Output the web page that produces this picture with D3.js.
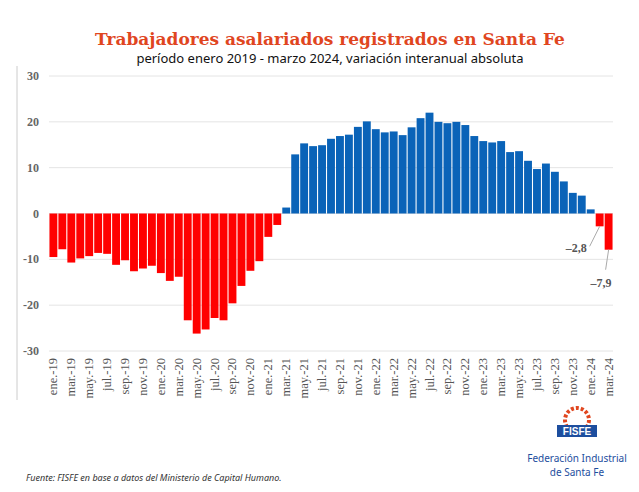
<!DOCTYPE html>
<html><head><meta charset="utf-8">
<script src="https://cdn.jsdelivr.net/npm/d3@7"></script>
<style>body{margin:0;background:#fff}</style>
</head><body><svg id="c" width="639" height="492"></svg>
<script>
const months = ["ene","feb","mar","abr","may","jun","jul","ago","sep","oct","nov","dic"];
const values2019 = [-9.5,-7.8,-10.7,-9.8,-9.3,-8.6,-8.8,-11.2,-10.2,-12.6,-12.0,-11.4];
const values2020 = [-13.0,-14.7,-13.8,-23.3,-26.2,-25.3,-22.8,-23.3,-19.6,-15.8,-12.5,-10.4];
const values2021 = [-5.1,-2.5,1.3,12.9,15.3,14.7,14.9,16.3,16.9,17.2,18.9,20.1];
const values2022 = [18.4,17.7,17.9,17.1,18.8,20.8,22.0,20.0,19.7,20.0,19.3,16.9];
const values2023 = [15.8,15.5,15.8,13.4,13.6,11.5,9.7,10.9,9.1,7.0,4.5,3.9];
const values2024 = [0.9,-2.8,-7.9];
const yTicks = [30,20,10,0,-10,-20,-30];

const data = [];
[[2019,values2019],[2020,values2020],[2021,values2021],[2022,values2022],[2023,values2023],[2024,values2024]]
  .forEach(([yr, vals]) => vals.forEach((v, i) => data.push({ label: `${months[i]}.-${String(yr).slice(2)}`, value: v })));

const svg = d3.select("#c");
const x = d3.scaleBand().domain(data.map(d => d.label)).range([49, 613]).paddingInner(0.12).paddingOuter(0.05);
const y = d3.scaleLinear().domain([-30, 30]).range([351, 76]);

// left frame line
svg.append("line").attr("x1", 17).attr("x2", 17).attr("y1", 66).attr("y2", 400).attr("stroke", "#ccc");

// grid
svg.append("g").selectAll("line").data(yTicks).join("line")
  .attr("x1", 49).attr("x2", 613).attr("y1", d => y(d)).attr("y2", d => y(d))
  .attr("stroke", "#e4e4e4");

svg.append("g").selectAll("text").data(yTicks).join("text")
  .attr("x", 39).attr("y", d => y(d) + 4).attr("text-anchor", "end")
  .attr("font-family", "Liberation Serif").attr("font-weight", "bold").attr("font-size", 12).attr("fill", "#666")
  .text(d => d);

// bars
svg.append("g").selectAll("rect").data(data).join("rect")
  .attr("x", d => x(d.label)).attr("width", x.bandwidth())
  .attr("y", d => y(Math.max(0, d.value))).attr("height", d => Math.abs(y(d.value) - y(0)))
  .attr("fill", d => d.value < 0 ? "#ff0000" : "#0a63b8");

// x labels every other month
svg.append("g").selectAll("text").data(data.filter((d, i) => i % 2 === 0)).join("text")
  .attr("transform", d => `translate(${x(d.label) + x.bandwidth() / 2 + 4},358) rotate(-90)`)
  .attr("text-anchor", "end").attr("font-family", "Liberation Serif").attr("font-size", 12.5).attr("fill", "#555")
  .text(d => d.label);

// value labels for last two
const last = data.slice(-2);
const lbl = [{ lx: -10, ly: 20, tx: -13, ty: 26 }, { lx: -3, ly: 20, tx: 3, ty: 37 }];
last.forEach((d, i) => {
  const cx = x(d.label) + x.bandwidth() / 2, cy = y(d.value);
  const l = lbl[i];
  svg.append("line").attr("x1", cx).attr("y1", cy).attr("x2", cx + l.lx).attr("y2", cy + l.ly)
    .attr("stroke", "#aaa");
  svg.append("text").attr("x", cx + l.tx).attr("y", cy + l.ty).attr("text-anchor", "end")
    .attr("font-family", "Liberation Serif").attr("font-weight", "bold").attr("font-size", 12).attr("fill", "#555")
    .text(String(d.value).replace(".", ",").replace("-", "–"));
});

// titles
svg.append("text").attr("x", 330).attr("y", 45).attr("text-anchor", "middle")
  .attr("font-family", "DejaVu Serif").attr("font-weight", "bold").attr("font-size", 17).attr("fill", "#e0461f")
  .text("Trabajadores asalariados registrados en Santa Fe");
svg.append("text").attr("x", 330).attr("y", 63).attr("text-anchor", "middle")
  .attr("font-family", "Noto Sans").attr("font-size", 13).attr("fill", "#111")
  .text("período enero 2019 - marzo  2024, variación interanual absoluta");

svg.append("text").attr("x", 26).attr("y", 481)
  .attr("font-family", "Noto Sans").attr("font-style", "italic").attr("font-size", 9).attr("fill", "#333")
  .text("Fuente: FISFE en base a datos del Ministerio de Capital Humano.");

// logo
svg.append("circle").attr("cx", 577).attr("cy", 420).attr("r", 12).attr("fill", "none")
  .attr("stroke", "#e0461f").attr("stroke-width", 4).attr("stroke-dasharray", "3 2");
svg.append("rect").attr("x", 557).attr("y", 425).attr("width", 40).attr("height", 12).attr("fill", "#1d4e9e");
svg.append("text").attr("x", 577).attr("y", 435).attr("text-anchor", "middle")
  .attr("font-family", "Liberation Sans").attr("font-weight", "bold").attr("font-size", 10).attr("fill", "#fff").text("FISFE");
svg.append("text").attr("x", 577).attr("y", 462).attr("text-anchor", "middle")
  .attr("font-family", "Noto Sans").attr("font-size", 10).attr("fill", "#1d4e9e").text("Federación Industrial");
svg.append("text").attr("x", 577).attr("y", 476).attr("text-anchor", "middle")
  .attr("font-family", "Noto Sans").attr("font-size", 10).attr("fill", "#1d4e9e").text("de Santa Fe");
</script></body></html>
